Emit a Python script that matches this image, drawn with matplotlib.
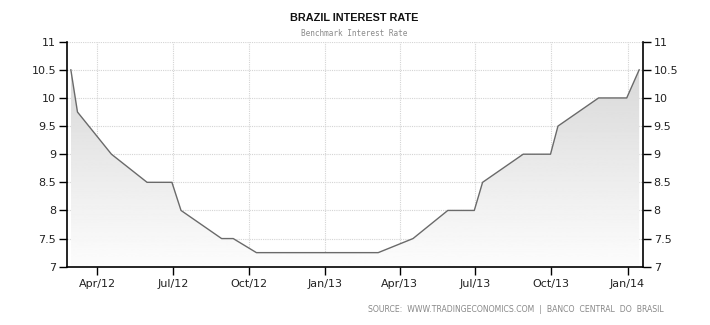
import numpy as np
import pandas as pd
import matplotlib
matplotlib.use("Agg")
import matplotlib.pyplot as plt
import matplotlib.dates as mdates
from matplotlib.patches import Polygon

# Selic rate, decision dates and period ends
dates = ["2012-02-29", "2012-03-08", "2012-04-18", "2012-05-31", "2012-06-30",
         "2012-07-11", "2012-08-29", "2012-09-12", "2012-10-10", "2013-03-06",
         "2013-04-17", "2013-05-29", "2013-06-30", "2013-07-10", "2013-08-28",
         "2013-09-30", "2013-10-09", "2013-11-27", "2013-12-31", "2014-01-15"]
rate = [10.5, 9.75, 9.0, 8.5, 8.5,
        8.0, 7.5, 7.5, 7.25, 7.25,
        7.5, 8.0, 8.0, 8.5, 9.0,
        9.0, 9.5, 10.0, 10.0, 10.5]
tick_dates = ["2012-04-01", "2012-07-01", "2012-10-01", "2013-01-01",
              "2013-04-01", "2013-07-01", "2013-10-01", "2014-01-01"]
tick_labels = ["Apr/12", "Jul/12", "Oct/12", "Jan/13", "Apr/13", "Jul/13", "Oct/13", "Jan/14"]
y_ticks = [7, 7.5, 8, 8.5, 9, 9.5, 10, 10.5, 11]
y_labels = ["7", "7.5", "8", "8.5", "9", "9.5", "10", "10.5", "11"]

x = mdates.date2num(pd.to_datetime(dates))
xt = mdates.date2num(pd.to_datetime(tick_dates))

fig = plt.figure(figsize=(7.1, 3.25), dpi=100)
ax = fig.add_axes([66.7 / 710, 1 - 266.7 / 325, (643.3 - 66.7) / 710, (266.7 - 41.7) / 325])

ax.set_xlim(mdates.date2num(pd.Timestamp("2012-02-24")),
            mdates.date2num(pd.Timestamp("2014-01-20")))
ax.set_ylim(7, 11)

# gray gradient under the line: darker at the top, fading to white
grad = np.linspace(0.83, 0.99, 256).reshape(-1, 1)
img = ax.imshow(grad, cmap="gray", vmin=0, vmax=1, aspect="auto", origin="upper",
                extent=[x[0], x[-1], 7, 11], zorder=1)
poly = Polygon(np.column_stack([np.r_[x[0], x, x[-1]], np.r_[7, rate, 7]]),
               closed=True, facecolor="none", edgecolor="none")
ax.add_patch(poly)
img.set_clip_path(poly)

ax.plot(x, rate, color="#6a6a6a", lw=1.0, zorder=3)

ax.set_xticks(xt)
ax.set_xticklabels(tick_labels)
ax.set_yticks(y_ticks)
ax.set_yticklabels(y_labels)
ax.tick_params(axis="both", labelsize=8, length=6, width=1, color="black",
               direction="out", labelcolor="#222222")
ax.tick_params(axis="y", right=True, labelright=True, pad=1.5)
ax.tick_params(axis="x", pad=3)
ax.grid(True, color="#d4d4d4", linestyle=(0, (1, 1)), lw=0.8, zorder=0)
ax.set_axisbelow(True)

ax.spines["top"].set_visible(False)
for s in ["left", "right", "bottom"]:
    ax.spines[s].set_color("black")
    ax.spines[s].set_linewidth(1.2)

fig.text(354.5 / 710, 1 - 18 / 325, "BRAZIL INTEREST RATE", ha="center", va="center",
         fontsize=7.8, fontweight="bold", family="Liberation Sans", color="#111111")
fig.text(354 / 710, 1 - 33.5 / 325, "Benchmark Interest Rate", ha="center", va="center",
         fontsize=5.6, family="DejaVu Sans Mono", color="#8a8a8a")
fig.text(516 / 710, 1 - 310 / 325, "SOURCE:  WWW.TRADINGECONOMICS.COM  |  BANCO  CENTRAL  DO  BRASIL",
         ha="center", va="center", fontsize=5.6, color="#888888")

fig.savefig("out.png", dpi=100)
